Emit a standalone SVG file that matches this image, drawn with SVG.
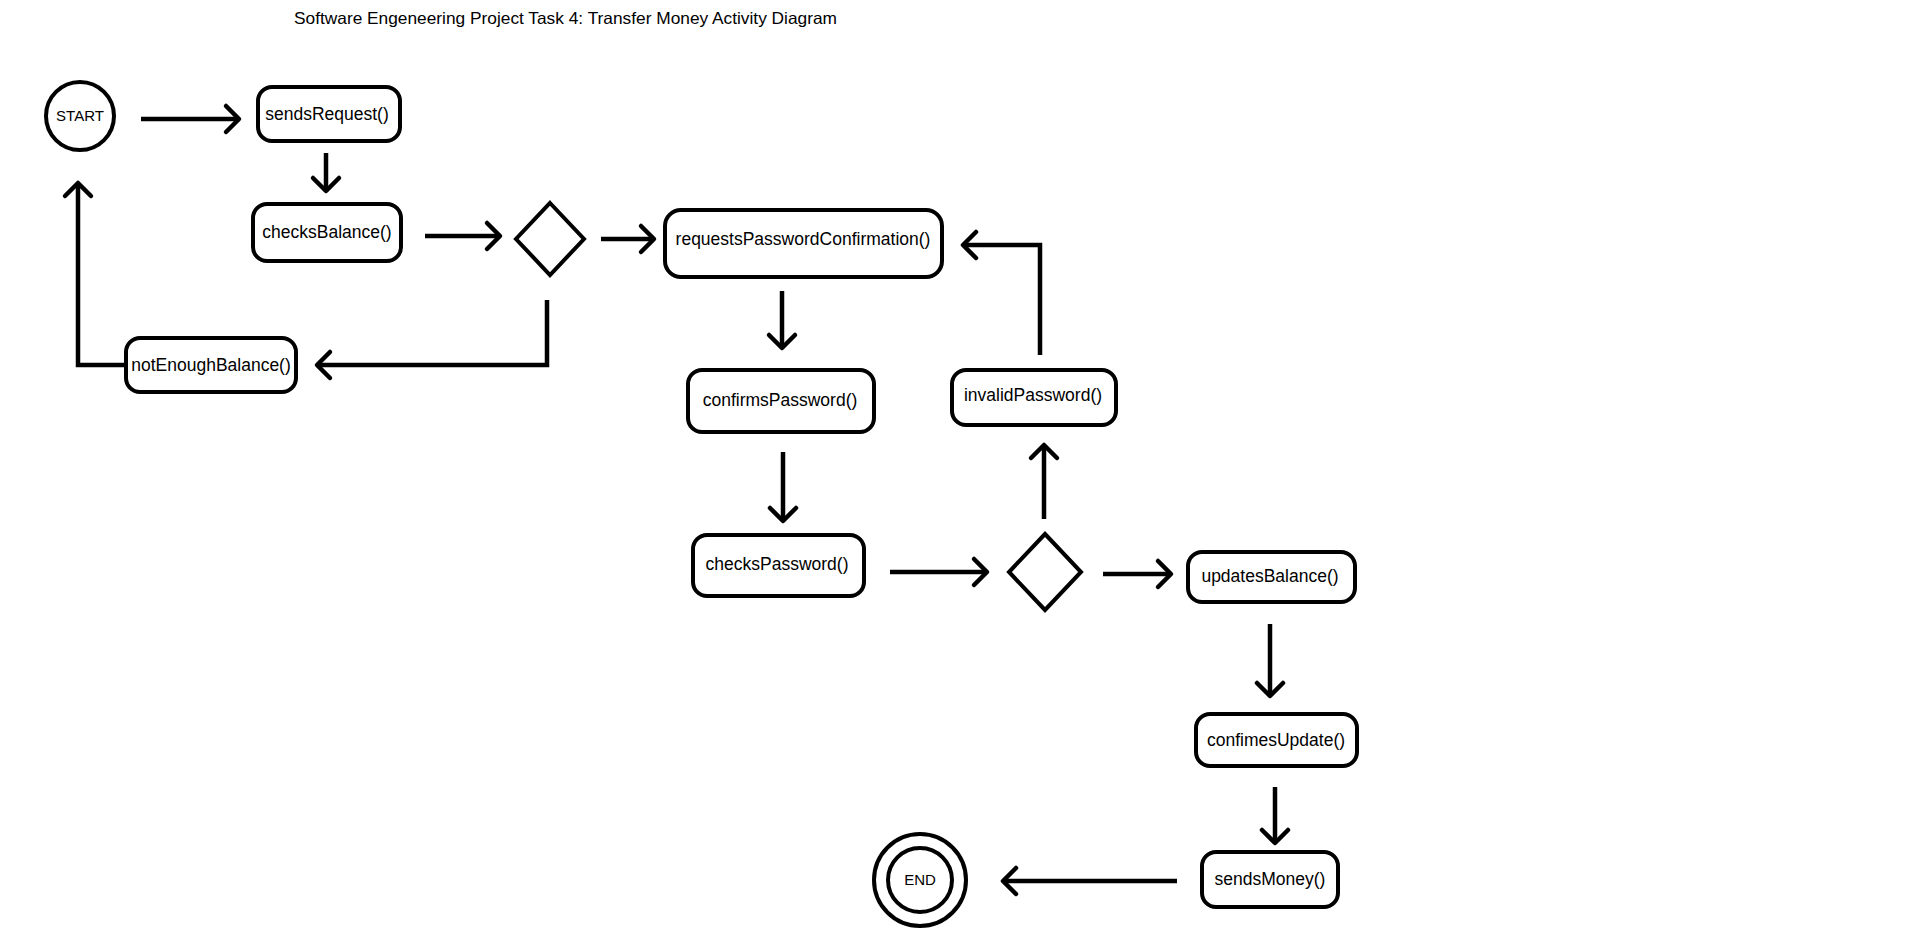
<svg xmlns="http://www.w3.org/2000/svg" width="1919" height="945" viewBox="0 0 1919 945">
  <style>
    .shape { fill: #ffffff; stroke: #000000; stroke-width: 4; }
    .label { font-family: "Liberation Sans", Arial, sans-serif; font-size: 17.5px; fill: #000000; text-anchor: middle; }
    .small { font-size: 15px; }
    .title { font-family: "Liberation Sans", Arial, sans-serif; font-size: 16.5px; fill: #000000; }
    .edge { fill: none; stroke: #000000; stroke-width: 4.5; stroke-linejoin: miter; marker-end: url(#head); }
    .plain { fill: none; stroke: #000000; stroke-width: 4.5; }
  </style>
  <defs>
    <marker id="head" markerUnits="userSpaceOnUse" markerWidth="40" markerHeight="40" viewBox="-20 -20 40 40" refX="0" refY="0" orient="auto" overflow="visible">
      <path d="M-13,-13 L0,0 L-13,13" fill="none" stroke="#000000" stroke-width="4.5" stroke-linecap="round" stroke-linejoin="round"/>
    </marker>
  </defs>
  <rect width="1919" height="945" fill="#ffffff"/>

  <text class="title" x="294" y="24" textLength="543" lengthAdjust="spacingAndGlyphs">Software Engeneering Project Task 4: Transfer Money Activity Diagram</text>

  <!-- connectors -->
  <g id="connectors">
    <path class="edge" d="M141,119 H239"/>
    <path class="edge" d="M326,153 V191"/>
    <path class="edge" d="M425,236 H500"/>
    <path class="edge" d="M601,239 H654"/>
    <path class="edge" d="M547,300 V365 H317"/>
    <path class="edge" d="M126,365 H78 V183"/>
    <path class="edge" d="M782,291 V348"/>
    <path class="edge" d="M783,452 V521"/>
    <path class="edge" d="M890,572 H987"/>
    <path class="edge" d="M1044,519 V445"/>
    <path class="edge" d="M1040,355 V245 H963"/>
    <path class="edge" d="M1103,574 H1171"/>
    <path class="edge" d="M1270,624 V696"/>
    <path class="edge" d="M1275,787 V843"/>
    <path class="edge" d="M1177,881 H1003"/>
  </g>

  <!-- nodes -->
  <g id="start">
    <circle class="shape" cx="80" cy="116" r="34"/>
    <text class="label small" x="80" y="121">START</text>
  </g>
  <g id="sendsRequest">
    <rect class="shape" x="258" y="87" width="142" height="54" rx="14" ry="14"/>
    <text class="label" x="327" y="120">sendsRequest()</text>
  </g>
  <g id="checksBalance">
    <rect class="shape" x="253" y="204" width="148" height="57" rx="14" ry="14"/>
    <text class="label" x="327" y="238">checksBalance()</text>
  </g>
  <g id="balanceDecision">
    <polygon class="shape" points="550,203 584,239 550,275 516,239"/>
  </g>
  <g id="requestsPasswordConfirmation">
    <rect class="shape" x="665" y="210" width="277" height="67" rx="16" ry="16"/>
    <text class="label" x="803" y="245">requestsPasswordConfirmation()</text>
  </g>
  <g id="notEnoughBalance">
    <rect class="shape" x="126" y="338" width="170" height="54" rx="14" ry="14"/>
    <text class="label" x="211" y="371">notEnoughBalance()</text>
  </g>
  <g id="confirmsPassword">
    <rect class="shape" x="688" y="370" width="186" height="62" rx="14" ry="14"/>
    <text class="label" x="780" y="406">confirmsPassword()</text>
  </g>
  <g id="checksPassword">
    <rect class="shape" x="693" y="535" width="171" height="61" rx="14" ry="14"/>
    <text class="label" x="777" y="570">checksPassword()</text>
  </g>
  <g id="passwordDecision">
    <polygon class="shape" points="1045,534 1081,572 1045,610 1009,572"/>
  </g>
  <g id="invalidPassword">
    <rect class="shape" x="952" y="370" width="164" height="55" rx="14" ry="14"/>
    <text class="label" x="1033" y="401">invalidPassword()</text>
  </g>
  <g id="updatesBalance">
    <rect class="shape" x="1188" y="552" width="167" height="50" rx="14" ry="14"/>
    <text class="label" x="1270" y="582">updatesBalance()</text>
  </g>
  <g id="confimesUpdate">
    <rect class="shape" x="1196" y="714" width="161" height="52" rx="14" ry="14"/>
    <text class="label" x="1276" y="746">confimesUpdate()</text>
  </g>
  <g id="sendsMoney">
    <rect class="shape" x="1202" y="852" width="136" height="55" rx="14" ry="14"/>
    <text class="label" x="1270" y="885">sendsMoney()</text>
  </g>
  <g id="end">
    <circle class="shape" cx="920" cy="880" r="46"/>
    <circle class="shape" cx="920" cy="880" r="32"/>
    <text class="label small" x="920" y="885">END</text>
  </g>
</svg>
